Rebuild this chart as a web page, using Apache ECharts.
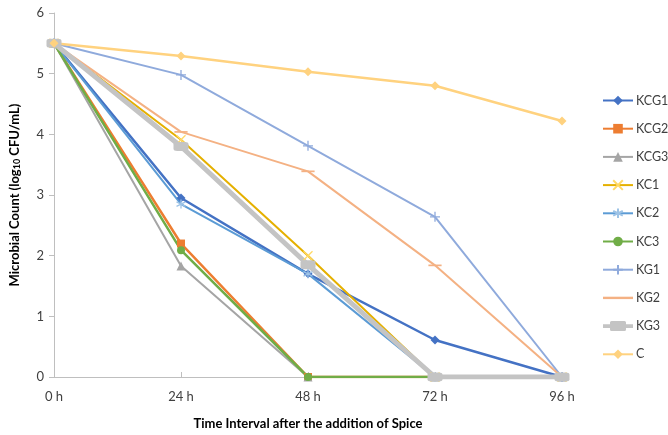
<!DOCTYPE html>
<html>
<head>
<meta charset="utf-8">
<script src="https://cdn.jsdelivr.net/npm/echarts@6/dist/echarts.min.js"></script>
<style>html,body{margin:0;padding:0;background:#fff}#c{width:668px;height:435px}</style>
</head>
<body>
<div id="c"></div>
<script>
const categories = ['0 h', '24 h', '48 h', '72 h', '96 h'];
const seriesNames = ['KCG1', 'KCG2', 'KCG3', 'KC1', 'KC2', 'KC3', 'KG1', 'KG2', 'KG3', 'C'];
const KCG1 = [5.5, 2.95, 1.70, 0.61, 0];
const KCG2 = [5.5, 2.20, 0, 0, 0];
const KCG3 = [5.5, 1.83, 0, 0, 0];
const KC1 = [5.5, 3.91, 2.00, 0, 0];
const KC2 = [5.5, 2.85, 1.70, 0, 0];
const KC3 = [5.5, 2.09, 0, 0, 0];
const KG1 = [5.5, 4.98, 3.81, 2.64, 0];
const KG2 = [5.5, 4.04, 3.39, 1.84, 0];
const KG3 = [5.5, 3.80, 1.85, 0, 0];
const C = [5.5, 5.29, 5.03, 4.80, 4.22];
const yTicks = { min: 0, max: 6, interval: 1 };

const values = [KCG1, KCG2, KCG3, KC1, KC2, KC3, KG1, KG2, KG3, C];
const colors = ['#4472C4', '#ED7D31', '#A5A5A5', '#E5B000', '#5B9BD5', '#70AD47', '#8FAADC', '#F4B183', '#C4C4C4', '#FFD27F'];
const styles = [
  { symbol: 'diamond', size: 9, width: 2.5 },
  { symbol: 'rect', size: 8, width: 2.5 },
  { symbol: 'triangle', size: 9, width: 2 },
  { symbol: 'path://M0,0L10,10M10,0L0,10', size: 9, width: 2, stroke: '#FFD966' },
  { symbol: 'path://M5,0L5,10M0,2.5L10,7.5M0,7.5L10,2.5', size: 9, width: 2, stroke: '#9DC3E6' },
  { symbol: 'circle', size: 8, width: 2.5 },
  { symbol: 'path://M5,0L5,10M0,5L10,5', size: 10, width: 2 },
  { symbol: 'path://M0,0L10,0L10,2L0,2Z', size: [8, 2], width: 2 },
  { symbol: 'roundRect', size: [15, 9], width: 5 },
  { symbol: 'diamond', size: 9, width: 2.5 }
];
// special legend icons (line + marker drawn as one shape)
const legendIcons = {
  KG2: 'path://M0,0L30,0L30,2.4L0,2.4Z',
  KG3: 'path://M0,3.2L7,3.2L7,1.5Q7,0 8.5,0L21.5,0Q23,0 23,1.5L23,3.2L30,3.2L30,6.8L23,6.8L23,8.5Q23,10 21.5,10L8.5,10Q7,10 7,8.5L7,6.8L0,6.8Z'
};

const font = 'Lato, "Open Sans", sans-serif';
const series = seriesNames.map((n, i) => {
  const st = styles[i];
  const isPath = st.symbol.startsWith('path://');
  return {
    name: n,
    type: 'line',
    data: values[i],
    symbol: st.symbol,
    symbolSize: st.size,
    symbolKeepAspect: true,
    showAllSymbol: true,
    lineStyle: { color: colors[i], width: st.width },
    itemStyle: isPath
      ? { color: colors[i], borderColor: st.stroke || colors[i], borderWidth: 1.3 }
      : { color: colors[i], borderWidth: 0 },
    emphasis: { disabled: true },
    animation: false
  };
});

const legendData = seriesNames.map((n, i) => legendIcons[n]
  ? { name: n, icon: legendIcons[n], itemStyle: { color: colors[i], borderWidth: 0 } }
  : { name: n });

const chart = echarts.init(document.getElementById('c'));
chart.setOption({
  backgroundColor: '#fff',
  animation: false,
  grid: { left: 51, right: 106, top: 13, bottom: 55, containLabel: false },
  legend: {
    orient: 'vertical',
    left: 597,
    top: 89,
    itemWidth: 30,
    itemHeight: 12,
    itemGap: 15.2,
    symbolKeepAspect: true,
    textStyle: { fontFamily: font, fontSize: 12.5, color: '#404040', padding: [0, 0, 0, -2] },
    data: legendData
  },
  xAxis: {
    type: 'category',
    data: categories,
    boundaryGap: false,
    axisLine: { lineStyle: { color: '#BFBFBF', width: 1 } },
    axisTick: { show: true, inside: true, length: 5, lineStyle: { color: '#BFBFBF' } },
    axisLabel: { fontFamily: font, fontSize: 13, color: '#404040', margin: 13 },
    splitLine: { show: false },
    name: 'Time Interval after the addition of Spice',
    nameLocation: 'middle',
    nameGap: 40,
    nameTextStyle: { fontFamily: font, fontSize: 13, fontWeight: 'bold', color: '#000' }
  },
  yAxis: {
    type: 'value',
    min: yTicks.min,
    max: yTicks.max,
    interval: yTicks.interval,
    axisLine: { show: true, lineStyle: { color: '#BFBFBF', width: 1 } },
    axisTick: { show: true, length: 5, lineStyle: { color: '#BFBFBF' } },
    axisLabel: { fontFamily: font, fontSize: 13, color: '#404040', margin: 10 },
    splitLine: { show: false },
    name: '{a|Microbial Count (log}{s|10}{a| CFU/mL)}',
    nameLocation: 'middle',
    nameGap: 32,
    nameTextStyle: {
      rich: {
        a: { fontFamily: font, fontSize: 13, fontWeight: 'bold', color: '#000' },
        s: { fontFamily: font, fontSize: 9, fontWeight: 'bold', color: '#000', verticalAlign: 'bottom', padding: [6, 0, 0, 0] }
      }
    }
  },
  series: series
});
</script>
</body>
</html>
